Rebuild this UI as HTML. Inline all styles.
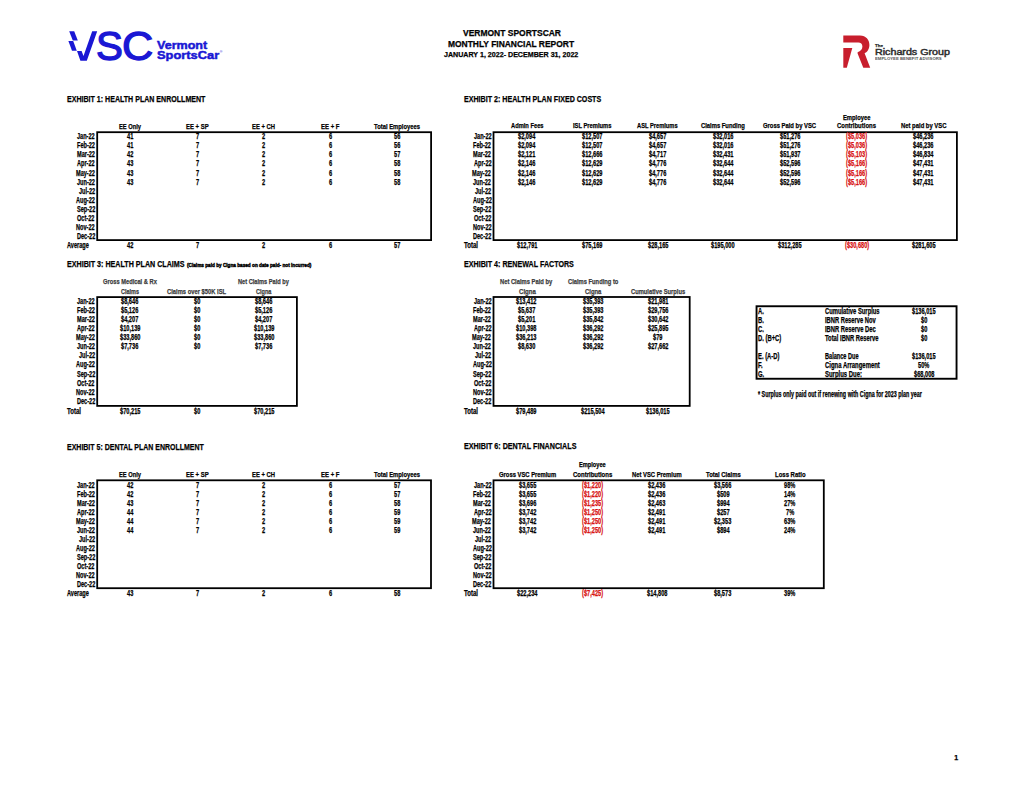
<!DOCTYPE html>
<html><head><meta charset="utf-8"><title>Vermont SportsCar Monthly Financial Report</title>
<style>
html,body{margin:0;padding:0;background:#fff;}
body{width:1024px;height:791px;position:relative;overflow:hidden;font-family:"Liberation Sans", Arial, sans-serif;font-weight:700;color:#000;}
.t{position:absolute;white-space:nowrap;line-height:1;transform-origin:0 0;-webkit-text-stroke:0.25px currentColor;}
.b{position:absolute;border:1.5px solid #000;}
.s{position:absolute;left:0;top:0;}
</style></head><body>
<svg class="s" width="1024" height="791" viewBox="0 0 1024 791">
<g fill="#1a17d4">
<polygon points="69.2,31.2 74.2,31.2 77.8,40.6 72.8,40.6"/>
<polygon points="68.4,41.0 73.2,41.0 76.8,50.8 72.0,50.8"/>
<polygon points="77.0,51.0 81.6,51.0 83.5,56.0 92.2,31.2 97.2,31.2 86.8,60.8 80.4,60.8"/>
</g>
<g fill="#c81e2d">
<path d="M843.3,35.6 L860,35.6 C866,35.6 869.4,40 869.4,45 C869.4,49.5 866.8,52.3 864.6,53.2 L870.2,67.7 L863.3,67.7 L857.6,53.6 L857.6,52.2 C860.6,51.6 862.4,49.3 862.4,46.6 C862.4,44 860.8,42.5 858.3,42.5 L843.3,42.5 Z"/>
<polygon points="843.3,48.1 852.3,48.1 846.8,67.7 843.3,67.7"/>
</g>
<g fill="none" stroke="#000">
<rect x="97.20" y="132.20" width="333.90" height="107.90" stroke-width="1.8"/>
<rect x="97.20" y="480.30" width="333.80" height="107.90" stroke-width="1.8"/>
<rect x="493.50" y="132.20" width="463.40" height="107.90" stroke-width="1.8"/>
<rect x="97.20" y="297.10" width="199.70" height="108.80" stroke-width="1.8"/>
<rect x="493.50" y="297.00" width="196.20" height="108.90" stroke-width="1.8"/>
<rect x="756.55" y="306.25" width="200.00" height="72.50" stroke-width="1.9"/>
<rect x="493.50" y="480.30" width="330.30" height="107.90" stroke-width="1.8"/>
</g>
</svg>
<div class="t" style="left:463.00px;top:29.48px;font-size:8.8px;transform:scaleX(0.964);">VERMONT SPORTSCAR</div>
<div class="t" style="left:448.30px;top:40.28px;font-size:8.8px;transform:scaleX(0.960);">MONTHLY FINANCIAL REPORT</div>
<div class="t" style="left:444.40px;top:51.08px;font-size:7.6px;transform:scaleX(0.936);">JANUARY 1, 2022- DECEMBER 31, 2022</div>
<div class="t" style="left:66.60px;top:95.22px;font-size:9.3px;transform:scaleX(0.760);">EXHIBIT 1: HEALTH PLAN ENROLLMENT</div>
<div class="t" style="left:119.30px;top:122.83px;font-size:7.9px;transform:scaleX(0.726);">EE Only</div>
<div class="t" style="left:186.30px;top:122.83px;font-size:7.9px;transform:scaleX(0.752);">EE + SP</div>
<div class="t" style="left:252.45px;top:122.83px;font-size:7.9px;transform:scaleX(0.740);">EE + CH</div>
<div class="t" style="left:321.40px;top:122.83px;font-size:7.9px;transform:scaleX(0.759);">EE + F</div>
<div class="t" style="left:374.30px;top:122.83px;font-size:7.9px;transform:scaleX(0.740);">Total Employees</div>
<div class="t" style="left:77.13px;top:132.38px;font-size:8.4px;transform:scaleX(0.665);">Jan-22</div>
<div class="t" style="left:76.82px;top:141.41px;font-size:8.4px;transform:scaleX(0.665);">Feb-22</div>
<div class="t" style="left:76.82px;top:150.44px;font-size:8.4px;transform:scaleX(0.665);">Mar-22</div>
<div class="t" style="left:77.13px;top:159.47px;font-size:8.4px;transform:scaleX(0.665);">Apr-22</div>
<div class="t" style="left:75.89px;top:168.50px;font-size:8.4px;transform:scaleX(0.665);">May-22</div>
<div class="t" style="left:76.82px;top:177.53px;font-size:8.4px;transform:scaleX(0.665);">Jun-22</div>
<div class="t" style="left:78.68px;top:186.56px;font-size:8.4px;transform:scaleX(0.665);">Jul-22</div>
<div class="t" style="left:75.90px;top:195.59px;font-size:8.4px;transform:scaleX(0.665);">Aug-22</div>
<div class="t" style="left:76.51px;top:204.62px;font-size:8.4px;transform:scaleX(0.665);">Sep-22</div>
<div class="t" style="left:77.44px;top:213.65px;font-size:8.4px;transform:scaleX(0.665);">Oct-22</div>
<div class="t" style="left:76.20px;top:222.68px;font-size:8.4px;transform:scaleX(0.665);">Nov-22</div>
<div class="t" style="left:76.51px;top:231.71px;font-size:8.4px;transform:scaleX(0.665);">Dec-22</div>
<div class="t" style="left:127.24px;top:132.38px;font-size:8.4px;transform:scaleX(0.675);">41</div>
<div class="t" style="left:195.81px;top:132.38px;font-size:8.4px;transform:scaleX(0.675);">7</div>
<div class="t" style="left:262.31px;top:132.38px;font-size:8.4px;transform:scaleX(0.675);">2</div>
<div class="t" style="left:329.01px;top:132.38px;font-size:8.4px;transform:scaleX(0.675);">6</div>
<div class="t" style="left:394.24px;top:132.38px;font-size:8.4px;transform:scaleX(0.675);">56</div>
<div class="t" style="left:127.24px;top:141.41px;font-size:8.4px;transform:scaleX(0.675);">41</div>
<div class="t" style="left:195.81px;top:141.41px;font-size:8.4px;transform:scaleX(0.675);">7</div>
<div class="t" style="left:262.31px;top:141.41px;font-size:8.4px;transform:scaleX(0.675);">2</div>
<div class="t" style="left:329.01px;top:141.41px;font-size:8.4px;transform:scaleX(0.675);">6</div>
<div class="t" style="left:394.24px;top:141.41px;font-size:8.4px;transform:scaleX(0.675);">56</div>
<div class="t" style="left:127.24px;top:150.44px;font-size:8.4px;transform:scaleX(0.675);">42</div>
<div class="t" style="left:195.81px;top:150.44px;font-size:8.4px;transform:scaleX(0.675);">7</div>
<div class="t" style="left:262.31px;top:150.44px;font-size:8.4px;transform:scaleX(0.675);">2</div>
<div class="t" style="left:329.01px;top:150.44px;font-size:8.4px;transform:scaleX(0.675);">6</div>
<div class="t" style="left:394.24px;top:150.44px;font-size:8.4px;transform:scaleX(0.675);">57</div>
<div class="t" style="left:127.24px;top:159.47px;font-size:8.4px;transform:scaleX(0.675);">43</div>
<div class="t" style="left:195.81px;top:159.47px;font-size:8.4px;transform:scaleX(0.675);">7</div>
<div class="t" style="left:262.31px;top:159.47px;font-size:8.4px;transform:scaleX(0.675);">2</div>
<div class="t" style="left:329.01px;top:159.47px;font-size:8.4px;transform:scaleX(0.675);">6</div>
<div class="t" style="left:394.24px;top:159.47px;font-size:8.4px;transform:scaleX(0.675);">58</div>
<div class="t" style="left:127.24px;top:168.50px;font-size:8.4px;transform:scaleX(0.675);">43</div>
<div class="t" style="left:195.81px;top:168.50px;font-size:8.4px;transform:scaleX(0.675);">7</div>
<div class="t" style="left:262.31px;top:168.50px;font-size:8.4px;transform:scaleX(0.675);">2</div>
<div class="t" style="left:329.01px;top:168.50px;font-size:8.4px;transform:scaleX(0.675);">6</div>
<div class="t" style="left:394.24px;top:168.50px;font-size:8.4px;transform:scaleX(0.675);">58</div>
<div class="t" style="left:127.24px;top:177.53px;font-size:8.4px;transform:scaleX(0.675);">43</div>
<div class="t" style="left:195.81px;top:177.53px;font-size:8.4px;transform:scaleX(0.675);">7</div>
<div class="t" style="left:262.31px;top:177.53px;font-size:8.4px;transform:scaleX(0.675);">2</div>
<div class="t" style="left:329.01px;top:177.53px;font-size:8.4px;transform:scaleX(0.675);">6</div>
<div class="t" style="left:394.24px;top:177.53px;font-size:8.4px;transform:scaleX(0.675);">58</div>
<div class="t" style="left:67.00px;top:240.68px;font-size:8.4px;transform:scaleX(0.668);">Average</div>
<div class="t" style="left:127.24px;top:240.68px;font-size:8.4px;transform:scaleX(0.675);">42</div>
<div class="t" style="left:195.81px;top:240.68px;font-size:8.4px;transform:scaleX(0.675);">7</div>
<div class="t" style="left:262.31px;top:240.68px;font-size:8.4px;transform:scaleX(0.675);">2</div>
<div class="t" style="left:329.01px;top:240.68px;font-size:8.4px;transform:scaleX(0.675);">6</div>
<div class="t" style="left:394.24px;top:240.68px;font-size:8.4px;transform:scaleX(0.675);">57</div>
<div class="t" style="left:66.60px;top:442.72px;font-size:9.3px;transform:scaleX(0.752);">EXHIBIT 5: DENTAL PLAN ENROLLMENT</div>
<div class="t" style="left:119.30px;top:470.83px;font-size:7.9px;transform:scaleX(0.726);">EE Only</div>
<div class="t" style="left:186.30px;top:470.83px;font-size:7.9px;transform:scaleX(0.752);">EE + SP</div>
<div class="t" style="left:252.45px;top:470.83px;font-size:7.9px;transform:scaleX(0.740);">EE + CH</div>
<div class="t" style="left:321.40px;top:470.83px;font-size:7.9px;transform:scaleX(0.759);">EE + F</div>
<div class="t" style="left:374.30px;top:470.83px;font-size:7.9px;transform:scaleX(0.740);">Total Employees</div>
<div class="t" style="left:77.13px;top:480.58px;font-size:8.4px;transform:scaleX(0.665);">Jan-22</div>
<div class="t" style="left:76.82px;top:489.61px;font-size:8.4px;transform:scaleX(0.665);">Feb-22</div>
<div class="t" style="left:76.82px;top:498.64px;font-size:8.4px;transform:scaleX(0.665);">Mar-22</div>
<div class="t" style="left:77.13px;top:507.67px;font-size:8.4px;transform:scaleX(0.665);">Apr-22</div>
<div class="t" style="left:75.89px;top:516.70px;font-size:8.4px;transform:scaleX(0.665);">May-22</div>
<div class="t" style="left:76.82px;top:525.73px;font-size:8.4px;transform:scaleX(0.665);">Jun-22</div>
<div class="t" style="left:78.68px;top:534.76px;font-size:8.4px;transform:scaleX(0.665);">Jul-22</div>
<div class="t" style="left:75.90px;top:543.79px;font-size:8.4px;transform:scaleX(0.665);">Aug-22</div>
<div class="t" style="left:76.51px;top:552.82px;font-size:8.4px;transform:scaleX(0.665);">Sep-22</div>
<div class="t" style="left:77.44px;top:561.85px;font-size:8.4px;transform:scaleX(0.665);">Oct-22</div>
<div class="t" style="left:76.20px;top:570.88px;font-size:8.4px;transform:scaleX(0.665);">Nov-22</div>
<div class="t" style="left:76.51px;top:579.91px;font-size:8.4px;transform:scaleX(0.665);">Dec-22</div>
<div class="t" style="left:127.24px;top:480.58px;font-size:8.4px;transform:scaleX(0.675);">42</div>
<div class="t" style="left:195.81px;top:480.58px;font-size:8.4px;transform:scaleX(0.675);">7</div>
<div class="t" style="left:262.31px;top:480.58px;font-size:8.4px;transform:scaleX(0.675);">2</div>
<div class="t" style="left:329.01px;top:480.58px;font-size:8.4px;transform:scaleX(0.675);">6</div>
<div class="t" style="left:394.24px;top:480.58px;font-size:8.4px;transform:scaleX(0.675);">57</div>
<div class="t" style="left:127.24px;top:489.61px;font-size:8.4px;transform:scaleX(0.675);">42</div>
<div class="t" style="left:195.81px;top:489.61px;font-size:8.4px;transform:scaleX(0.675);">7</div>
<div class="t" style="left:262.31px;top:489.61px;font-size:8.4px;transform:scaleX(0.675);">2</div>
<div class="t" style="left:329.01px;top:489.61px;font-size:8.4px;transform:scaleX(0.675);">6</div>
<div class="t" style="left:394.24px;top:489.61px;font-size:8.4px;transform:scaleX(0.675);">57</div>
<div class="t" style="left:127.24px;top:498.64px;font-size:8.4px;transform:scaleX(0.675);">43</div>
<div class="t" style="left:195.81px;top:498.64px;font-size:8.4px;transform:scaleX(0.675);">7</div>
<div class="t" style="left:262.31px;top:498.64px;font-size:8.4px;transform:scaleX(0.675);">2</div>
<div class="t" style="left:329.01px;top:498.64px;font-size:8.4px;transform:scaleX(0.675);">6</div>
<div class="t" style="left:394.24px;top:498.64px;font-size:8.4px;transform:scaleX(0.675);">58</div>
<div class="t" style="left:127.24px;top:507.67px;font-size:8.4px;transform:scaleX(0.675);">44</div>
<div class="t" style="left:195.81px;top:507.67px;font-size:8.4px;transform:scaleX(0.675);">7</div>
<div class="t" style="left:262.31px;top:507.67px;font-size:8.4px;transform:scaleX(0.675);">2</div>
<div class="t" style="left:329.01px;top:507.67px;font-size:8.4px;transform:scaleX(0.675);">6</div>
<div class="t" style="left:394.24px;top:507.67px;font-size:8.4px;transform:scaleX(0.675);">59</div>
<div class="t" style="left:127.24px;top:516.70px;font-size:8.4px;transform:scaleX(0.675);">44</div>
<div class="t" style="left:195.81px;top:516.70px;font-size:8.4px;transform:scaleX(0.675);">7</div>
<div class="t" style="left:262.31px;top:516.70px;font-size:8.4px;transform:scaleX(0.675);">2</div>
<div class="t" style="left:329.01px;top:516.70px;font-size:8.4px;transform:scaleX(0.675);">6</div>
<div class="t" style="left:394.24px;top:516.70px;font-size:8.4px;transform:scaleX(0.675);">59</div>
<div class="t" style="left:127.24px;top:525.73px;font-size:8.4px;transform:scaleX(0.675);">44</div>
<div class="t" style="left:195.81px;top:525.73px;font-size:8.4px;transform:scaleX(0.675);">7</div>
<div class="t" style="left:262.31px;top:525.73px;font-size:8.4px;transform:scaleX(0.675);">2</div>
<div class="t" style="left:329.01px;top:525.73px;font-size:8.4px;transform:scaleX(0.675);">6</div>
<div class="t" style="left:394.24px;top:525.73px;font-size:8.4px;transform:scaleX(0.675);">59</div>
<div class="t" style="left:67.00px;top:588.88px;font-size:8.4px;transform:scaleX(0.668);">Average</div>
<div class="t" style="left:127.24px;top:588.88px;font-size:8.4px;transform:scaleX(0.675);">43</div>
<div class="t" style="left:195.81px;top:588.88px;font-size:8.4px;transform:scaleX(0.675);">7</div>
<div class="t" style="left:262.31px;top:588.88px;font-size:8.4px;transform:scaleX(0.675);">2</div>
<div class="t" style="left:329.01px;top:588.88px;font-size:8.4px;transform:scaleX(0.675);">6</div>
<div class="t" style="left:394.24px;top:588.88px;font-size:8.4px;transform:scaleX(0.675);">58</div>
<div class="t" style="left:463.90px;top:95.32px;font-size:9.3px;transform:scaleX(0.764);">EXHIBIT 2: HEALTH PLAN FIXED COSTS</div>
<div class="t" style="left:510.50px;top:122.33px;font-size:7.9px;transform:scaleX(0.728);">Admin Fees</div>
<div class="t" style="left:573.00px;top:122.33px;font-size:7.9px;transform:scaleX(0.733);">ISL Premiums</div>
<div class="t" style="left:637.40px;top:122.33px;font-size:7.9px;transform:scaleX(0.726);">ASL Premiums</div>
<div class="t" style="left:701.25px;top:122.33px;font-size:7.9px;transform:scaleX(0.740);">Claims Funding</div>
<div class="t" style="left:763.35px;top:122.33px;font-size:7.9px;transform:scaleX(0.743);">Gross Paid by VSC</div>
<div class="t" style="left:837.10px;top:122.33px;font-size:7.9px;transform:scaleX(0.753);">Contributions</div>
<div class="t" style="left:900.65px;top:122.33px;font-size:7.9px;transform:scaleX(0.746);">Net paid by VSC</div>
<div class="t" style="left:842.85px;top:113.73px;font-size:7.9px;transform:scaleX(0.736);">Employee</div>
<div class="t" style="left:473.73px;top:132.38px;font-size:8.4px;transform:scaleX(0.665);">Jan-22</div>
<div class="t" style="left:473.42px;top:141.41px;font-size:8.4px;transform:scaleX(0.665);">Feb-22</div>
<div class="t" style="left:473.42px;top:150.44px;font-size:8.4px;transform:scaleX(0.665);">Mar-22</div>
<div class="t" style="left:473.73px;top:159.47px;font-size:8.4px;transform:scaleX(0.665);">Apr-22</div>
<div class="t" style="left:472.49px;top:168.50px;font-size:8.4px;transform:scaleX(0.665);">May-22</div>
<div class="t" style="left:473.42px;top:177.53px;font-size:8.4px;transform:scaleX(0.665);">Jun-22</div>
<div class="t" style="left:475.28px;top:186.56px;font-size:8.4px;transform:scaleX(0.665);">Jul-22</div>
<div class="t" style="left:472.50px;top:195.59px;font-size:8.4px;transform:scaleX(0.665);">Aug-22</div>
<div class="t" style="left:473.11px;top:204.62px;font-size:8.4px;transform:scaleX(0.665);">Sep-22</div>
<div class="t" style="left:474.04px;top:213.65px;font-size:8.4px;transform:scaleX(0.665);">Oct-22</div>
<div class="t" style="left:472.80px;top:222.68px;font-size:8.4px;transform:scaleX(0.665);">Nov-22</div>
<div class="t" style="left:473.11px;top:231.71px;font-size:8.4px;transform:scaleX(0.665);">Dec-22</div>
<div class="t" style="left:518.24px;top:132.38px;font-size:8.4px;transform:scaleX(0.675);">$2,094</div>
<div class="t" style="left:582.17px;top:132.38px;font-size:8.4px;transform:scaleX(0.675);">$12,507</div>
<div class="t" style="left:649.24px;top:132.38px;font-size:8.4px;transform:scaleX(0.675);">$4,657</div>
<div class="t" style="left:712.87px;top:132.38px;font-size:8.4px;transform:scaleX(0.675);">$32,016</div>
<div class="t" style="left:779.67px;top:132.38px;font-size:8.4px;transform:scaleX(0.675);">$51,276</div>
<div class="t" style="left:846.20px;top:132.38px;font-size:8.4px;color:#d81212;transform:scaleX(0.675);">($5,036)</div>
<div class="t" style="left:913.17px;top:132.38px;font-size:8.4px;transform:scaleX(0.675);">$46,236</div>
<div class="t" style="left:518.24px;top:141.41px;font-size:8.4px;transform:scaleX(0.675);">$2,094</div>
<div class="t" style="left:582.17px;top:141.41px;font-size:8.4px;transform:scaleX(0.675);">$12,507</div>
<div class="t" style="left:649.24px;top:141.41px;font-size:8.4px;transform:scaleX(0.675);">$4,657</div>
<div class="t" style="left:712.87px;top:141.41px;font-size:8.4px;transform:scaleX(0.675);">$32,016</div>
<div class="t" style="left:779.67px;top:141.41px;font-size:8.4px;transform:scaleX(0.675);">$51,276</div>
<div class="t" style="left:846.20px;top:141.41px;font-size:8.4px;color:#d81212;transform:scaleX(0.675);">($5,036)</div>
<div class="t" style="left:913.17px;top:141.41px;font-size:8.4px;transform:scaleX(0.675);">$46,236</div>
<div class="t" style="left:518.24px;top:150.44px;font-size:8.4px;transform:scaleX(0.675);">$2,121</div>
<div class="t" style="left:582.17px;top:150.44px;font-size:8.4px;transform:scaleX(0.675);">$12,666</div>
<div class="t" style="left:649.24px;top:150.44px;font-size:8.4px;transform:scaleX(0.675);">$4,717</div>
<div class="t" style="left:712.87px;top:150.44px;font-size:8.4px;transform:scaleX(0.675);">$32,431</div>
<div class="t" style="left:779.67px;top:150.44px;font-size:8.4px;transform:scaleX(0.675);">$51,937</div>
<div class="t" style="left:846.20px;top:150.44px;font-size:8.4px;color:#d81212;transform:scaleX(0.675);">($5,103)</div>
<div class="t" style="left:913.17px;top:150.44px;font-size:8.4px;transform:scaleX(0.675);">$46,834</div>
<div class="t" style="left:518.24px;top:159.47px;font-size:8.4px;transform:scaleX(0.675);">$2,146</div>
<div class="t" style="left:582.17px;top:159.47px;font-size:8.4px;transform:scaleX(0.675);">$12,629</div>
<div class="t" style="left:649.24px;top:159.47px;font-size:8.4px;transform:scaleX(0.675);">$4,776</div>
<div class="t" style="left:712.87px;top:159.47px;font-size:8.4px;transform:scaleX(0.675);">$32,644</div>
<div class="t" style="left:779.67px;top:159.47px;font-size:8.4px;transform:scaleX(0.675);">$52,596</div>
<div class="t" style="left:846.20px;top:159.47px;font-size:8.4px;color:#d81212;transform:scaleX(0.675);">($5,166)</div>
<div class="t" style="left:913.17px;top:159.47px;font-size:8.4px;transform:scaleX(0.675);">$47,431</div>
<div class="t" style="left:518.24px;top:168.50px;font-size:8.4px;transform:scaleX(0.675);">$2,146</div>
<div class="t" style="left:582.17px;top:168.50px;font-size:8.4px;transform:scaleX(0.675);">$12,629</div>
<div class="t" style="left:649.24px;top:168.50px;font-size:8.4px;transform:scaleX(0.675);">$4,776</div>
<div class="t" style="left:712.87px;top:168.50px;font-size:8.4px;transform:scaleX(0.675);">$32,644</div>
<div class="t" style="left:779.67px;top:168.50px;font-size:8.4px;transform:scaleX(0.675);">$52,596</div>
<div class="t" style="left:846.20px;top:168.50px;font-size:8.4px;color:#d81212;transform:scaleX(0.675);">($5,166)</div>
<div class="t" style="left:913.17px;top:168.50px;font-size:8.4px;transform:scaleX(0.675);">$47,431</div>
<div class="t" style="left:518.24px;top:177.53px;font-size:8.4px;transform:scaleX(0.675);">$2,146</div>
<div class="t" style="left:582.17px;top:177.53px;font-size:8.4px;transform:scaleX(0.675);">$12,629</div>
<div class="t" style="left:649.24px;top:177.53px;font-size:8.4px;transform:scaleX(0.675);">$4,776</div>
<div class="t" style="left:712.87px;top:177.53px;font-size:8.4px;transform:scaleX(0.675);">$32,644</div>
<div class="t" style="left:779.67px;top:177.53px;font-size:8.4px;transform:scaleX(0.675);">$52,596</div>
<div class="t" style="left:846.20px;top:177.53px;font-size:8.4px;color:#d81212;transform:scaleX(0.675);">($5,166)</div>
<div class="t" style="left:913.17px;top:177.53px;font-size:8.4px;transform:scaleX(0.675);">$47,431</div>
<div class="t" style="left:464.10px;top:240.68px;font-size:8.4px;transform:scaleX(0.724);">Total</div>
<div class="t" style="left:516.67px;top:240.68px;font-size:8.4px;transform:scaleX(0.675);">$12,791</div>
<div class="t" style="left:582.17px;top:240.68px;font-size:8.4px;transform:scaleX(0.675);">$75,169</div>
<div class="t" style="left:647.67px;top:240.68px;font-size:8.4px;transform:scaleX(0.675);">$28,165</div>
<div class="t" style="left:711.30px;top:240.68px;font-size:8.4px;transform:scaleX(0.675);">$195,000</div>
<div class="t" style="left:778.10px;top:240.68px;font-size:8.4px;transform:scaleX(0.675);">$312,285</div>
<div class="t" style="left:844.63px;top:240.68px;font-size:8.4px;color:#d81212;transform:scaleX(0.675);">($30,680)</div>
<div class="t" style="left:911.60px;top:240.68px;font-size:8.4px;transform:scaleX(0.675);">$281,605</div>
<div class="t" style="left:66.60px;top:260.02px;font-size:9.3px;transform:scaleX(0.767);">EXHIBIT 3: HEALTH PLAN CLAIMS</div>
<div class="t" style="left:186.50px;top:263.04px;font-size:5.5px;transform:scaleX(0.851);-webkit-text-stroke:0.45px #000;">(Claims paid by Cigna based on date paid- not incurred)</div>
<div class="t" style="left:102.85px;top:277.93px;font-size:7.9px;color:#3a3a3a;transform:scaleX(0.727);">Gross Medical &amp; Rx</div>
<div class="t" style="left:121.20px;top:287.63px;font-size:7.9px;color:#3a3a3a;transform:scaleX(0.695);">Claims</div>
<div class="t" style="left:167.35px;top:287.63px;font-size:7.9px;color:#3a3a3a;transform:scaleX(0.737);">Claims over $50K ISL</div>
<div class="t" style="left:238.00px;top:277.93px;font-size:7.9px;color:#3a3a3a;transform:scaleX(0.717);">Net Claims Paid by</div>
<div class="t" style="left:256.40px;top:287.63px;font-size:7.9px;color:#3a3a3a;transform:scaleX(0.701);">Cigna</div>
<div class="t" style="left:77.13px;top:297.28px;font-size:8.4px;transform:scaleX(0.665);">Jan-22</div>
<div class="t" style="left:76.82px;top:306.31px;font-size:8.4px;transform:scaleX(0.665);">Feb-22</div>
<div class="t" style="left:76.82px;top:315.34px;font-size:8.4px;transform:scaleX(0.665);">Mar-22</div>
<div class="t" style="left:77.13px;top:324.37px;font-size:8.4px;transform:scaleX(0.665);">Apr-22</div>
<div class="t" style="left:75.89px;top:333.40px;font-size:8.4px;transform:scaleX(0.665);">May-22</div>
<div class="t" style="left:76.82px;top:342.43px;font-size:8.4px;transform:scaleX(0.665);">Jun-22</div>
<div class="t" style="left:78.68px;top:351.46px;font-size:8.4px;transform:scaleX(0.665);">Jul-22</div>
<div class="t" style="left:75.90px;top:360.49px;font-size:8.4px;transform:scaleX(0.665);">Aug-22</div>
<div class="t" style="left:76.51px;top:369.52px;font-size:8.4px;transform:scaleX(0.665);">Sep-22</div>
<div class="t" style="left:77.44px;top:378.55px;font-size:8.4px;transform:scaleX(0.665);">Oct-22</div>
<div class="t" style="left:76.20px;top:387.58px;font-size:8.4px;transform:scaleX(0.665);">Nov-22</div>
<div class="t" style="left:76.51px;top:396.61px;font-size:8.4px;transform:scaleX(0.665);">Dec-22</div>
<div class="t" style="left:121.24px;top:297.28px;font-size:8.4px;transform:scaleX(0.675);">$8,646</div>
<div class="t" style="left:193.74px;top:297.28px;font-size:8.4px;transform:scaleX(0.675);">$0</div>
<div class="t" style="left:255.24px;top:297.28px;font-size:8.4px;transform:scaleX(0.675);">$8,646</div>
<div class="t" style="left:121.24px;top:306.31px;font-size:8.4px;transform:scaleX(0.675);">$5,126</div>
<div class="t" style="left:193.74px;top:306.31px;font-size:8.4px;transform:scaleX(0.675);">$0</div>
<div class="t" style="left:255.24px;top:306.31px;font-size:8.4px;transform:scaleX(0.675);">$5,126</div>
<div class="t" style="left:121.24px;top:315.34px;font-size:8.4px;transform:scaleX(0.675);">$4,207</div>
<div class="t" style="left:193.74px;top:315.34px;font-size:8.4px;transform:scaleX(0.675);">$0</div>
<div class="t" style="left:255.24px;top:315.34px;font-size:8.4px;transform:scaleX(0.675);">$4,207</div>
<div class="t" style="left:119.67px;top:324.37px;font-size:8.4px;transform:scaleX(0.675);">$10,139</div>
<div class="t" style="left:193.74px;top:324.37px;font-size:8.4px;transform:scaleX(0.675);">$0</div>
<div class="t" style="left:253.67px;top:324.37px;font-size:8.4px;transform:scaleX(0.675);">$10,139</div>
<div class="t" style="left:119.67px;top:333.40px;font-size:8.4px;transform:scaleX(0.675);">$33,860</div>
<div class="t" style="left:193.74px;top:333.40px;font-size:8.4px;transform:scaleX(0.675);">$0</div>
<div class="t" style="left:253.67px;top:333.40px;font-size:8.4px;transform:scaleX(0.675);">$33,860</div>
<div class="t" style="left:121.24px;top:342.43px;font-size:8.4px;transform:scaleX(0.675);">$7,736</div>
<div class="t" style="left:193.74px;top:342.43px;font-size:8.4px;transform:scaleX(0.675);">$0</div>
<div class="t" style="left:255.24px;top:342.43px;font-size:8.4px;transform:scaleX(0.675);">$7,736</div>
<div class="t" style="left:66.60px;top:406.78px;font-size:8.4px;transform:scaleX(0.724);">Total</div>
<div class="t" style="left:119.67px;top:406.78px;font-size:8.4px;transform:scaleX(0.675);">$70,215</div>
<div class="t" style="left:193.74px;top:406.78px;font-size:8.4px;transform:scaleX(0.675);">$0</div>
<div class="t" style="left:253.67px;top:406.78px;font-size:8.4px;transform:scaleX(0.675);">$70,215</div>
<div class="t" style="left:463.90px;top:259.72px;font-size:9.3px;transform:scaleX(0.767);">EXHIBIT 4: RENEWAL FACTORS</div>
<div class="t" style="left:500.20px;top:278.23px;font-size:7.9px;color:#3a3a3a;transform:scaleX(0.734);">Net Claims Paid by</div>
<div class="t" style="left:518.55px;top:287.63px;font-size:7.9px;color:#3a3a3a;transform:scaleX(0.768);">Cigna</div>
<div class="t" style="left:567.55px;top:278.23px;font-size:7.9px;color:#3a3a3a;transform:scaleX(0.732);">Claims Funding to</div>
<div class="t" style="left:585.00px;top:287.63px;font-size:7.9px;color:#3a3a3a;transform:scaleX(0.746);">Cigna</div>
<div class="t" style="left:630.70px;top:287.63px;font-size:7.9px;color:#3a3a3a;transform:scaleX(0.731);">Cumulative Surplus</div>
<div class="t" style="left:473.73px;top:297.28px;font-size:8.4px;transform:scaleX(0.665);">Jan-22</div>
<div class="t" style="left:473.42px;top:306.31px;font-size:8.4px;transform:scaleX(0.665);">Feb-22</div>
<div class="t" style="left:473.42px;top:315.34px;font-size:8.4px;transform:scaleX(0.665);">Mar-22</div>
<div class="t" style="left:473.73px;top:324.37px;font-size:8.4px;transform:scaleX(0.665);">Apr-22</div>
<div class="t" style="left:472.49px;top:333.40px;font-size:8.4px;transform:scaleX(0.665);">May-22</div>
<div class="t" style="left:473.42px;top:342.43px;font-size:8.4px;transform:scaleX(0.665);">Jun-22</div>
<div class="t" style="left:475.28px;top:351.46px;font-size:8.4px;transform:scaleX(0.665);">Jul-22</div>
<div class="t" style="left:472.50px;top:360.49px;font-size:8.4px;transform:scaleX(0.665);">Aug-22</div>
<div class="t" style="left:473.11px;top:369.52px;font-size:8.4px;transform:scaleX(0.665);">Sep-22</div>
<div class="t" style="left:474.04px;top:378.55px;font-size:8.4px;transform:scaleX(0.665);">Oct-22</div>
<div class="t" style="left:472.80px;top:387.58px;font-size:8.4px;transform:scaleX(0.665);">Nov-22</div>
<div class="t" style="left:473.11px;top:396.61px;font-size:8.4px;transform:scaleX(0.665);">Dec-22</div>
<div class="t" style="left:516.17px;top:297.28px;font-size:8.4px;transform:scaleX(0.675);">$13,412</div>
<div class="t" style="left:582.67px;top:297.28px;font-size:8.4px;transform:scaleX(0.675);">$35,393</div>
<div class="t" style="left:647.67px;top:297.28px;font-size:8.4px;transform:scaleX(0.675);">$21,981</div>
<div class="t" style="left:517.74px;top:306.31px;font-size:8.4px;transform:scaleX(0.675);">$5,637</div>
<div class="t" style="left:582.67px;top:306.31px;font-size:8.4px;transform:scaleX(0.675);">$35,393</div>
<div class="t" style="left:647.67px;top:306.31px;font-size:8.4px;transform:scaleX(0.675);">$29,756</div>
<div class="t" style="left:517.74px;top:315.34px;font-size:8.4px;transform:scaleX(0.675);">$5,201</div>
<div class="t" style="left:582.67px;top:315.34px;font-size:8.4px;transform:scaleX(0.675);">$35,842</div>
<div class="t" style="left:647.67px;top:315.34px;font-size:8.4px;transform:scaleX(0.675);">$30,642</div>
<div class="t" style="left:516.17px;top:324.37px;font-size:8.4px;transform:scaleX(0.675);">$10,398</div>
<div class="t" style="left:582.67px;top:324.37px;font-size:8.4px;transform:scaleX(0.675);">$36,292</div>
<div class="t" style="left:647.67px;top:324.37px;font-size:8.4px;transform:scaleX(0.675);">$25,895</div>
<div class="t" style="left:516.17px;top:333.40px;font-size:8.4px;transform:scaleX(0.675);">$36,213</div>
<div class="t" style="left:582.67px;top:333.40px;font-size:8.4px;transform:scaleX(0.675);">$36,292</div>
<div class="t" style="left:653.17px;top:333.40px;font-size:8.4px;transform:scaleX(0.675);">$79</div>
<div class="t" style="left:517.74px;top:342.43px;font-size:8.4px;transform:scaleX(0.675);">$8,630</div>
<div class="t" style="left:582.67px;top:342.43px;font-size:8.4px;transform:scaleX(0.675);">$36,292</div>
<div class="t" style="left:647.67px;top:342.43px;font-size:8.4px;transform:scaleX(0.675);">$27,662</div>
<div class="t" style="left:464.10px;top:406.78px;font-size:8.4px;transform:scaleX(0.724);">Total</div>
<div class="t" style="left:516.17px;top:406.78px;font-size:8.4px;transform:scaleX(0.675);">$79,489</div>
<div class="t" style="left:581.10px;top:406.78px;font-size:8.4px;transform:scaleX(0.675);">$215,504</div>
<div class="t" style="left:646.10px;top:406.78px;font-size:8.4px;transform:scaleX(0.675);">$136,015</div>
<div class="t" style="left:757.80px;top:307.18px;font-size:8.4px;transform:scaleX(0.700);">A.</div>
<div class="t" style="left:824.90px;top:307.18px;font-size:8.4px;transform:scaleX(0.694);">Cumulative Surplus</div>
<div class="t" style="left:912.10px;top:307.18px;font-size:8.4px;transform:scaleX(0.675);">$136,015</div>
<div class="t" style="left:757.80px;top:316.38px;font-size:8.4px;transform:scaleX(0.700);">B.</div>
<div class="t" style="left:824.90px;top:316.38px;font-size:8.4px;transform:scaleX(0.689);">IBNR Reserve Nov</div>
<div class="t" style="left:920.74px;top:316.38px;font-size:8.4px;transform:scaleX(0.675);">$0</div>
<div class="t" style="left:757.80px;top:325.38px;font-size:8.4px;transform:scaleX(0.700);">C.</div>
<div class="t" style="left:824.90px;top:325.38px;font-size:8.4px;transform:scaleX(0.693);">IBNR Reserve Dec</div>
<div class="t" style="left:920.74px;top:325.38px;font-size:8.4px;transform:scaleX(0.675);">$0</div>
<div class="t" style="left:757.80px;top:334.18px;font-size:8.4px;transform:scaleX(0.700);">D. (B+C)</div>
<div class="t" style="left:824.90px;top:334.18px;font-size:8.4px;transform:scaleX(0.693);">Total IBNR Reserve</div>
<div class="t" style="left:920.74px;top:334.18px;font-size:8.4px;transform:scaleX(0.675);">$0</div>
<div class="t" style="left:757.80px;top:352.38px;font-size:8.4px;transform:scaleX(0.700);">E. (A-D)</div>
<div class="t" style="left:824.90px;top:352.38px;font-size:8.4px;transform:scaleX(0.666);">Balance Due</div>
<div class="t" style="left:912.10px;top:352.38px;font-size:8.4px;transform:scaleX(0.675);">$136,015</div>
<div class="t" style="left:757.80px;top:360.98px;font-size:8.4px;transform:scaleX(0.700);">F.</div>
<div class="t" style="left:824.90px;top:360.98px;font-size:8.4px;transform:scaleX(0.708);">Cigna Arrangement</div>
<div class="t" style="left:918.16px;top:360.98px;font-size:8.4px;transform:scaleX(0.675);">50%</div>
<div class="t" style="left:757.80px;top:370.08px;font-size:8.4px;transform:scaleX(0.700);">G.</div>
<div class="t" style="left:824.90px;top:370.08px;font-size:8.4px;transform:scaleX(0.711);">Surplus Due:</div>
<div class="t" style="left:913.67px;top:370.08px;font-size:8.4px;transform:scaleX(0.675);">$68,008</div>
<div class="t" style="left:758.30px;top:390.08px;font-size:8.4px;transform:scaleX(0.640);">* Surplus only paid out if renewing with Cigna for 2023 plan year</div>
<div class="t" style="left:463.90px;top:442.32px;font-size:9.3px;transform:scaleX(0.771);">EXHIBIT 6: DENTAL FINANCIALS</div>
<div class="t" style="left:498.85px;top:470.73px;font-size:7.9px;transform:scaleX(0.740);">Gross VSC Premium</div>
<div class="t" style="left:573.05px;top:470.73px;font-size:7.9px;transform:scaleX(0.759);">Contributions</div>
<div class="t" style="left:632.35px;top:470.73px;font-size:7.9px;transform:scaleX(0.741);">Net VSC Premium</div>
<div class="t" style="left:705.50px;top:470.73px;font-size:7.9px;transform:scaleX(0.750);">Total Claims</div>
<div class="t" style="left:774.95px;top:470.73px;font-size:7.9px;transform:scaleX(0.758);">Loss Ratio</div>
<div class="t" style="left:579.35px;top:461.13px;font-size:7.9px;transform:scaleX(0.715);">Employee</div>
<div class="t" style="left:473.73px;top:480.58px;font-size:8.4px;transform:scaleX(0.665);">Jan-22</div>
<div class="t" style="left:473.42px;top:489.61px;font-size:8.4px;transform:scaleX(0.665);">Feb-22</div>
<div class="t" style="left:473.42px;top:498.64px;font-size:8.4px;transform:scaleX(0.665);">Mar-22</div>
<div class="t" style="left:473.73px;top:507.67px;font-size:8.4px;transform:scaleX(0.665);">Apr-22</div>
<div class="t" style="left:472.49px;top:516.70px;font-size:8.4px;transform:scaleX(0.665);">May-22</div>
<div class="t" style="left:473.42px;top:525.73px;font-size:8.4px;transform:scaleX(0.665);">Jun-22</div>
<div class="t" style="left:475.28px;top:534.76px;font-size:8.4px;transform:scaleX(0.665);">Jul-22</div>
<div class="t" style="left:472.50px;top:543.79px;font-size:8.4px;transform:scaleX(0.665);">Aug-22</div>
<div class="t" style="left:473.11px;top:552.82px;font-size:8.4px;transform:scaleX(0.665);">Sep-22</div>
<div class="t" style="left:474.04px;top:561.85px;font-size:8.4px;transform:scaleX(0.665);">Oct-22</div>
<div class="t" style="left:472.80px;top:570.88px;font-size:8.4px;transform:scaleX(0.665);">Nov-22</div>
<div class="t" style="left:473.11px;top:579.91px;font-size:8.4px;transform:scaleX(0.665);">Dec-22</div>
<div class="t" style="left:518.64px;top:480.58px;font-size:8.4px;transform:scaleX(0.675);">$3,655</div>
<div class="t" style="left:582.30px;top:480.58px;font-size:8.4px;color:#d81212;transform:scaleX(0.675);">($1,220)</div>
<div class="t" style="left:648.44px;top:480.58px;font-size:8.4px;transform:scaleX(0.675);">$2,436</div>
<div class="t" style="left:714.34px;top:480.58px;font-size:8.4px;transform:scaleX(0.675);">$3,566</div>
<div class="t" style="left:784.46px;top:480.58px;font-size:8.4px;transform:scaleX(0.675);">98%</div>
<div class="t" style="left:518.64px;top:489.61px;font-size:8.4px;transform:scaleX(0.675);">$3,655</div>
<div class="t" style="left:582.30px;top:489.61px;font-size:8.4px;color:#d81212;transform:scaleX(0.675);">($1,220)</div>
<div class="t" style="left:648.44px;top:489.61px;font-size:8.4px;transform:scaleX(0.675);">$2,436</div>
<div class="t" style="left:716.70px;top:489.61px;font-size:8.4px;transform:scaleX(0.675);">$509</div>
<div class="t" style="left:784.46px;top:489.61px;font-size:8.4px;transform:scaleX(0.675);">14%</div>
<div class="t" style="left:518.64px;top:498.64px;font-size:8.4px;transform:scaleX(0.675);">$3,696</div>
<div class="t" style="left:582.30px;top:498.64px;font-size:8.4px;color:#d81212;transform:scaleX(0.675);">($1,235)</div>
<div class="t" style="left:648.44px;top:498.64px;font-size:8.4px;transform:scaleX(0.675);">$2,463</div>
<div class="t" style="left:716.70px;top:498.64px;font-size:8.4px;transform:scaleX(0.675);">$994</div>
<div class="t" style="left:784.46px;top:498.64px;font-size:8.4px;transform:scaleX(0.675);">27%</div>
<div class="t" style="left:518.64px;top:507.67px;font-size:8.4px;transform:scaleX(0.675);">$3,742</div>
<div class="t" style="left:582.30px;top:507.67px;font-size:8.4px;color:#d81212;transform:scaleX(0.675);">($1,250)</div>
<div class="t" style="left:648.44px;top:507.67px;font-size:8.4px;transform:scaleX(0.675);">$2,491</div>
<div class="t" style="left:716.70px;top:507.67px;font-size:8.4px;transform:scaleX(0.675);">$257</div>
<div class="t" style="left:786.03px;top:507.67px;font-size:8.4px;transform:scaleX(0.675);">7%</div>
<div class="t" style="left:518.64px;top:516.70px;font-size:8.4px;transform:scaleX(0.675);">$3,742</div>
<div class="t" style="left:582.30px;top:516.70px;font-size:8.4px;color:#d81212;transform:scaleX(0.675);">($1,250)</div>
<div class="t" style="left:648.44px;top:516.70px;font-size:8.4px;transform:scaleX(0.675);">$2,491</div>
<div class="t" style="left:714.34px;top:516.70px;font-size:8.4px;transform:scaleX(0.675);">$2,353</div>
<div class="t" style="left:784.46px;top:516.70px;font-size:8.4px;transform:scaleX(0.675);">63%</div>
<div class="t" style="left:518.64px;top:525.73px;font-size:8.4px;transform:scaleX(0.675);">$3,742</div>
<div class="t" style="left:582.30px;top:525.73px;font-size:8.4px;color:#d81212;transform:scaleX(0.675);">($1,250)</div>
<div class="t" style="left:648.44px;top:525.73px;font-size:8.4px;transform:scaleX(0.675);">$2,491</div>
<div class="t" style="left:716.70px;top:525.73px;font-size:8.4px;transform:scaleX(0.675);">$894</div>
<div class="t" style="left:784.46px;top:525.73px;font-size:8.4px;transform:scaleX(0.675);">24%</div>
<div class="t" style="left:464.10px;top:588.88px;font-size:8.4px;transform:scaleX(0.724);">Total</div>
<div class="t" style="left:517.07px;top:588.88px;font-size:8.4px;transform:scaleX(0.675);">$22,234</div>
<div class="t" style="left:582.30px;top:588.88px;font-size:8.4px;color:#d81212;transform:scaleX(0.675);">($7,425)</div>
<div class="t" style="left:646.87px;top:588.88px;font-size:8.4px;transform:scaleX(0.675);">$14,808</div>
<div class="t" style="left:714.34px;top:588.88px;font-size:8.4px;transform:scaleX(0.675);">$8,573</div>
<div class="t" style="left:784.46px;top:588.88px;font-size:8.4px;transform:scaleX(0.675);">39%</div>
<div class="t" style="left:954.20px;top:754.28px;font-size:7.0px;transform:scaleX(1.000);">1</div>
<div class="t" style="left:95.88px;top:24.59px;font-size:41.5px;font-weight:400;color:#1a17d4;transform:scaleX(0.972);-webkit-text-stroke:1.3px #1a17d4;">S</div>
<div class="t" style="left:121.96px;top:24.59px;font-size:41.5px;font-weight:400;color:#1a17d4;transform:scaleX(1.044);-webkit-text-stroke:1.3px #1a17d4;">C</div>
<div class="t" style="left:157.00px;top:40.47px;font-size:11.8px;color:#1a17d4;transform:scaleX(1.064);-webkit-text-stroke:0.5px #1a17d4;">Vermont</div>
<div class="t" style="left:157.00px;top:49.87px;font-size:11.8px;color:#1a17d4;transform:scaleX(1.090);-webkit-text-stroke:0.5px #1a17d4;">SportsCar</div>
<div class="t" style="left:219.80px;top:51.29px;font-size:3.6px;font-weight:400;color:#1a17d4;transform:scaleX(1.000);-webkit-text-stroke:0;">®</div>
<div class="t" style="left:874.60px;top:43.89px;font-size:4.4px;color:#2b2b2b;transform:scaleX(1.004);">The</div>
<div class="t" style="left:874.60px;top:48.13px;font-size:8.9px;font-weight:400;color:#2e2e2e;transform:scaleX(1.205);-webkit-text-stroke:0.45px #2e2e2e;">Richards Group</div>
<div class="t" style="left:874.60px;top:57.39px;font-size:4.0px;color:#555;transform:scaleX(1.070);-webkit-text-stroke:0;">EMPLOYEE BENEFIT ADVISORS</div>
</body></html>
